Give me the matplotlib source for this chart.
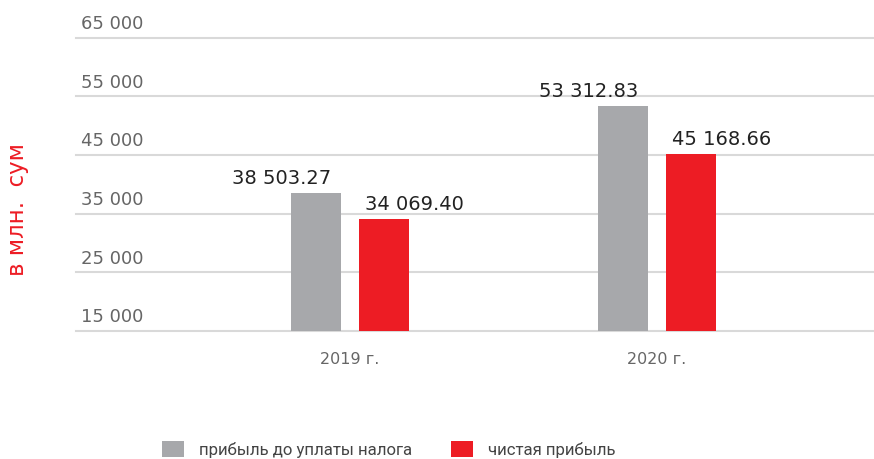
import matplotlib
matplotlib.use("Agg")
import matplotlib.pyplot as plt
import numpy as np

years = ["2019 г.", "2020 г."]
pre_tax = [38503.27, 53312.83]
net = [34069.40, 45168.66]
pre_tax_labels = ["38 503.27", "53 312.83"]
net_labels = ["34 069.40", "45 168.66"]
yticks = [15000, 25000, 35000, 45000, 55000, 65000]
ytick_labels = ["15 000", "25 000", "35 000", "45 000", "55 000", "65 000"]

GRAY = "#A7A8AB"
RED = "#ED1C24"

fig = plt.figure(figsize=(8.74, 4.6), dpi=100)
ax = fig.add_axes([0.087, 0.278, 0.912, 0.638])

x = np.arange(len(years))
off = 0.111
w = 0.163
b1 = ax.bar(x - off, pre_tax, w, color=GRAY, zorder=3, label="прибыль до уплаты налога")
b2 = ax.bar(x + off, net, w, color=RED, zorder=3, label="чистая прибыль")

ax.set_xlim(-0.893, 1.704)
ax.set_ylim(15000, 65000)

# сетка и подписи оси Y над линиями
for v, lab in zip(yticks, ytick_labels):
    ax.axhline(v, color="#D9D9D9", lw=1.5, zorder=1, clip_on=False)
    ax.annotate(lab, xy=(0.006, v), xycoords=("axes fraction", "data"),
                xytext=(0, 7), textcoords="offset points",
                ha="left", va="baseline", fontsize=13, color="#666666")

for i in range(len(years)):
    ax.annotate(pre_tax_labels[i], xy=(x[i] - off, pre_tax[i]), xytext=(-25, 7.5),
                textcoords="offset points", ha="center", va="baseline",
                fontsize=14, color="#222222")
    ax.annotate(net_labels[i], xy=(x[i] + off, net[i]), xytext=(22, 7.5),
                textcoords="offset points", ha="center", va="baseline",
                fontsize=14, color="#222222")

ax.set_xticks(x)
ax.set_xticklabels(years, fontsize=11.5, color="#666666")
ax.tick_params(axis="x", length=0, pad=14)
ax.set_yticks([])
for s in ax.spines.values():
    s.set_visible(False)

fig.text(0.02, 0.545, "в млн.  сум", rotation=90, color=RED, fontsize=16.5,
         ha="center", va="center")

fig.legend(handles=[b1, b2], loc="center left", bbox_to_anchor=(0.1854, 0.0217),
           ncol=2, frameon=False, handlelength=1.3, handleheight=1.1,
           handletextpad=0.9, columnspacing=2.3, borderpad=0, borderaxespad=0,
           prop={"family": "Roboto", "size": 12.1}, labelcolor="#444444")

fig.savefig("out.png", dpi=100)
